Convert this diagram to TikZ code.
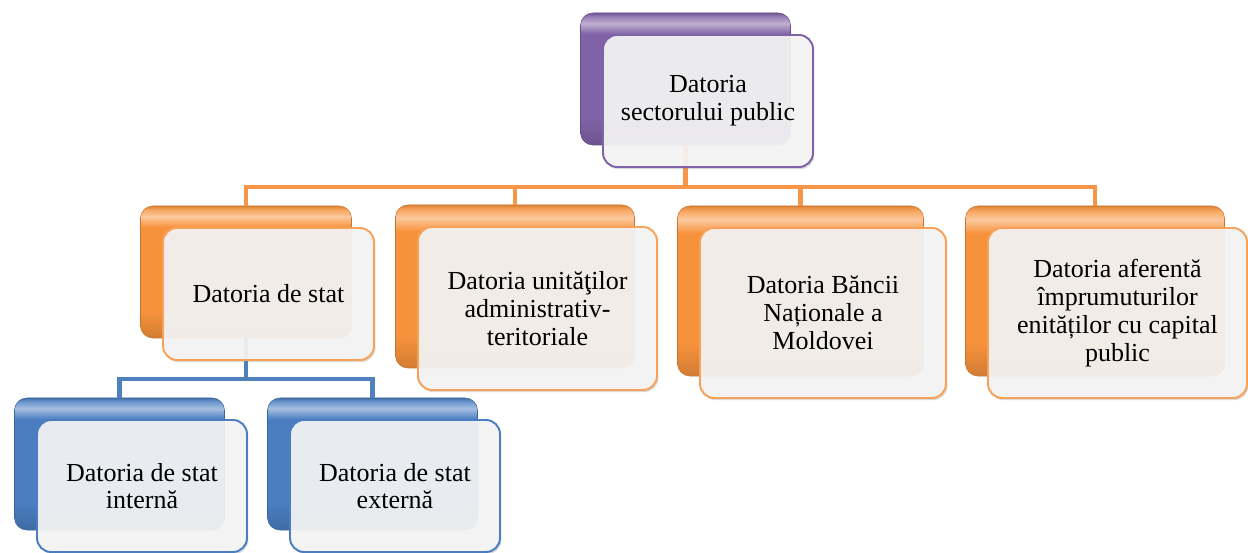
\documentclass[tikz,border=0pt]{standalone}
\usepackage{fontspec}
\setmainfont{Liberation Serif}
\usepackage{tikz}
\usetikzlibrary{calc, shadows}
\definecolor{mainOrange}{RGB}{247,146,60}
\definecolor{mainBlue}{RGB}{74,126,193}
\definecolor{mainPurple}{RGB}{128,98,166}
\definecolor{lineOrange}{RGB}{247,150,72}
\definecolor{lineBlue}{RGB}{79,129,189}
\definecolor{paleFill}{RGB}{245,245,245}

% glossy fill of the back cards
\newcommand{\glossShading}[2]{%
  \pgfdeclareverticalshading{#1}{100bp}{color(0bp)=(#2!85!black); color(25bp)=(#2!85!black); color(35bp)=(#2); color(67bp)=(#2); color(71bp)=(#2!50!white); color(73.5bp)=(#2!80!white); color(75bp)=(#2!90!black); color(100bp)=(#2!90!black)}}
\glossShading{glossOrange}{mainOrange}
\glossShading{glossBlue}{mainBlue}
\glossShading{glossPurple}{mainPurple}

\begin{document}
\begin{tikzpicture}[
    backBox/.style={rounded corners=7pt, inner sep=0pt, draw=#1!80!black, line width=0.3pt},
    frontBox/.style={rounded corners=8pt, inner sep=2pt, align=center, draw=#1, line width=1.1pt,
        fill=paleFill, fill opacity=0.92, text opacity=1,
        drop shadow={shadow xshift=0.8pt, shadow yshift=-1.2pt, opacity=0.3},
        font=\fontsize{14.8}{15.8}\selectfont},
    boxSize/.style 2 args={minimum width=#1cm, minimum height=#2cm},
    orangeLink/.style={lineOrange, line width=2.5pt},
    blueLink/.style={lineBlue, line width=2.5pt}
]
    \useasboundingbox (0,0) rectangle (24.96,-11.06);

    % Back cards
    \node[backBox=mainPurple, shading=glossPurple, boxSize={4.2}{2.64}] (pubB) at (13.71,-1.58) {};
    \node[backBox=mainOrange, shading=glossOrange, boxSize={4.22}{2.64}] (statB) at (4.92,-5.44) {};
    \node[backBox=mainOrange, shading=glossOrange, boxSize={4.78}{3.26}] (uatB) at (10.30,-5.73) {};
    \node[backBox=mainOrange, shading=glossOrange, boxSize={4.92}{3.40}] (bnmB) at (16.01,-5.82) {};
    \node[backBox=mainOrange, shading=glossOrange, boxSize={5.18}{3.40}] (capB) at (21.90,-5.82) {};
    \node[backBox=mainBlue, shading=glossBlue, boxSize={4.2}{2.64}] (intB) at (2.39,-9.28) {};
    \node[backBox=mainBlue, shading=glossBlue, boxSize={4.2}{2.64}] (extB) at (7.45,-9.28) {};

    % Connectors
    \foreach \kid in {statB, uatB, bnmB, capB}
        \draw[orangeLink] (pubB.south) -- ++(0,-0.84) -| (\kid.north);
    \foreach \kid in {intB, extB}
        \draw[blueLink] (statB.south) -- ++(0,-0.82) -| (\kid.north);

    % Front cards
    \node[frontBox=mainPurple, boxSize={4.2}{2.64}] (pub) at ($(pubB)+(0.45,-0.44)$) {Datoria\\ sectorului public};
    \node[frontBox=mainOrange!85!white, boxSize={4.22}{2.64}] (stat) at ($(statB)+(0.45,-0.44)$) {Datoria de stat};
    \node[frontBox=mainOrange!85!white, boxSize={4.78}{3.26}] (uat) at ($(uatB)+(0.45,-0.44)$) {Datoria unităţilor\\ administrativ-\\ teritoriale};
    \node[frontBox=mainOrange!85!white, boxSize={4.92}{3.40}] (bnm) at ($(bnmB)+(0.45,-0.44)$) {Datoria Băncii\\ Naționale a\\ Moldovei};
    \node[frontBox=mainOrange!85!white, boxSize={5.18}{3.40}] (cap) at ($(capB)+(0.45,-0.44)$) {Datoria aferentă\\ împrumuturilor\\ enităților cu capital\\ public};
    \node[frontBox=mainBlue, boxSize={4.2}{2.64}] (int) at ($(intB)+(0.45,-0.44)$) {Datoria de stat\\ internă};
    \node[frontBox=mainBlue, boxSize={4.2}{2.64}] (ext) at ($(extB)+(0.45,-0.44)$) {Datoria de stat\\ externă};
\end{tikzpicture}
\end{document}
